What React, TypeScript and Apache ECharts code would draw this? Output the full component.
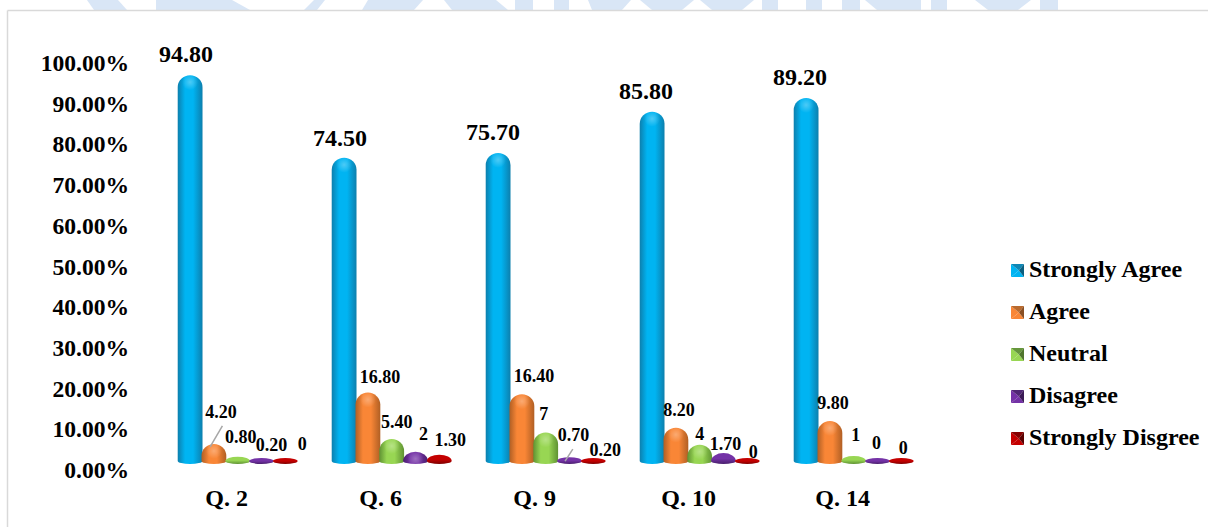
import React, { useEffect, useRef } from "react";
import * as echarts from "echarts";

const categories = ["Q. 2", "Q. 6", "Q. 9", "Q. 10", "Q. 14"];
const seriesNames = ["Strongly Agree", "Agree", "Neutral", "Disagree", "Strongly Disgree"];
const stronglyAgree = [94.8, 74.5, 75.7, 85.8, 89.2];
const agree = [4.2, 16.8, 16.4, 8.2, 9.8];
const neutral = [0.8, 5.4, 7, 4, 1];
const disagree = [0.2, 2, 0.7, 1.7, 0];
const stronglyDisagree = [0, 1.3, 0.2, 0, 0];
const seriesValues = [stronglyAgree, agree, neutral, disagree, stronglyDisagree];

// label nudges (px) relative to each bar's top, per series then category
const labelNudges: number[][][] = [
  [[-4, -21], [-4, -20], [-5, -21], [-6, -21], [-6, -21]],
  [[7, -32], [12, -16], [12, -18], [3, -18], [3, -18]],
  [[3, -21], [5, -17], [-2, -19], [0, -11], [2, -22]],
  [[10, -15], [8, -19], [4, -23], [2, -10], [-1, -18]],
  [[17, -17], [11, -16], [12, -10], [6, -9], [2, -13]],
];
// leader lines: series, category, from (dx,dy), to (dx,dy)
const leaders = [
  { s: 1, c: 0, line: [8.5, -18, -3.8, 3] },
  { s: 3, c: 2, line: [3.3, -9, -4.4, 3] },
];

const baseColors = ["#00b4f2", "#f98636", "#98d653", "#7432a6", "#c40000"];
const edgeColors = ["#0d7fad", "#b05f24", "#5f9233", "#4a1f6d", "#7d0000"];
const darkFacet = ["#0b5f80", "#8a4f22", "#4f752c", "#3a1a55", "#5a0000"];
const midFacet = ["#0f87b5", "#b96a2e", "#66963c", "#4f2674", "#860000"];

// faded banner behind the top edge of the chart panel: [topL, topR, botL, botR]
const bannerShapes = [
  [87, 118, 94, 127], [156, 232, 156, 250], [314, 325, 304, 317], [368, 423, 362, 414],
  [444, 496, 452, 508], [515, 533, 515, 533], [554, 569, 554, 569], [588, 604, 592, 604],
  [604, 631, 604, 622], [640, 694, 652, 682], [700, 754, 712, 742], [762, 778, 762, 778],
  [806, 822, 806, 822], [842, 860, 842, 860], [865, 921, 877, 921], [931, 947, 931, 947],
  [975, 1031, 988, 1018], [1040, 1058, 1040, 1058],
];

const SERIF = "'Liberation Serif', 'Times New Roman', serif";
const legendMarkerTop = 264;
const legendStep = 42;

function fmt(v: number) {
  return Number.isInteger(v) ? String(v) : v.toFixed(2);
}

function makeRenderItem(s: number) {
  return (params: any, api: any) => {
    const c = api.value(0);
    const v = api.value(1);
    const center = api.coord([c, v]);
    const base = api.coord([c, 0]);
    const band = api.size([1, 0])[0];
    const step = band * 0.1545;
    const x = center[0] + (s - 2) * step;
    const rx = 12.4;
    const yb = base[1];
    const topRaw = center[1];
    const top = Math.min(topRaw - (v < 4 ? 1 : 0), yb - 3);
    const ry = Math.min(12, yb - top);
    const sh = top + ry;
    const xl = x - rx;
    const xr = x + rx;
    const d = `M${xl} ${sh}A${rx} ${ry} 0 0 1 ${xr} ${sh}L${xr} ${yb}A${rx} 3 0 0 1 ${xl} ${yb}Z`;
    const flat = ry < 8;
    const fill = flat
      ? new echarts.graphic.LinearGradient(0, 0, 0, 1, [
          { offset: 0, color: baseColors[s] },
          { offset: 0.5, color: baseColors[s] },
          { offset: 1, color: edgeColors[s] },
        ])
      : new echarts.graphic.LinearGradient(0, 0, 1, 0, [
          { offset: 0, color: edgeColors[s] },
          { offset: 0.3, color: baseColors[s] },
          { offset: 0.62, color: baseColors[s] },
          { offset: 1, color: edgeColors[s] },
        ]);
    const children: any[] = [
      { type: "path", shape: { pathData: d, x: xl, y: top, width: rx * 2, height: yb + 3 - top, layout: "cover" }, style: { fill }, z2: s },
    ];
    if (!flat) {
      children.push({
        type: "circle",
        shape: { cx: x, cy: top + 7, r: 8 },
        style: {
          fill: new echarts.graphic.RadialGradient(0.5, 0.5, 0.5, [
            { offset: 0, color: "rgba(255,255,255,0.3)" },
            { offset: 1, color: "rgba(255,255,255,0)" },
          ]),
        },
        z2: s + 0.5,
      });
    }
    const n = labelNudges[s][c];
    children.push({
      type: "text",
      x: x + n[0],
      y: topRaw + n[1],
      style: {
        text: fmt(v),
        font: `bold ${s === 0 ? 24 : 18}px ${SERIF}`,
        fill: "#000",
        align: "center",
        verticalAlign: "middle",
      },
      z2: 100,
    });
    leaders
      .filter((l) => l.s === s && l.c === c)
      .forEach((l) => {
        children.push({
          type: "line",
          shape: { x1: x + l.line[0], y1: topRaw + l.line[1], x2: x + l.line[2], y2: topRaw + l.line[3] },
          style: { stroke: "#a6a6a6", lineWidth: 1.5 },
          z2: 50,
        });
      });
    return { type: "group", children };
  };
}

function buildGraphic() {
  const els: any[] = [];
  bannerShapes.forEach((b) => {
    els.push({
      type: "polygon",
      shape: { points: [[b[0], 0], [b[1], 0], [b[3], 10], [b[2], 10]] },
      style: { fill: "#d9e6f6" },
      silent: true,
      z: 0,
    });
  });
  els.push({ type: "line", shape: { x1: 7.5, y1: 10.5, x2: 1208, y2: 10.5 }, style: { stroke: "#d9d9d9", lineWidth: 1.5 }, silent: true });
  els.push({ type: "line", shape: { x1: 7.5, y1: 10.5, x2: 7.5, y2: 527 }, style: { stroke: "#d9d9d9", lineWidth: 1.5 }, silent: true });
  seriesNames.forEach((_, i) => {
    const x0 = 1011;
    const x1 = 1024;
    const y0 = legendMarkerTop + i * legendStep;
    const y1 = y0 + 13;
    const cx = x0 + 8;
    const cy = y0 + 6.5;
    const tri = (pts: number[][], fill: string) =>
      els.push({ type: "polygon", shape: { points: pts }, style: { fill }, silent: true, z: 20 });
    tri([[x0, y0], [x0, y1], [cx, cy]], baseColors[i]);
    tri([[x0, y1], [x1, y1], [cx, cy]], baseColors[i]);
    tri([[x0, y0], [x1, y0], [cx, cy]], midFacet[i]);
    tri([[x1, y0], [x1, y1], [cx, cy]], darkFacet[i]);
  });
  return els;
}

export default function App() {
  const ref = useRef<HTMLDivElement>(null);
  useEffect(() => {
    document.body.style.margin = "0";
    document.body.style.background = "#fff";
    const chart = echarts.init(ref.current!, undefined, { renderer: "svg" });
    chart.setOption({
      animation: false,
      backgroundColor: "#fff",
      grid: { left: 160.7, width: 770, top: 54, height: 407, containLabel: false },
      xAxis: {
        type: "category",
        data: categories,
        axisLine: { show: false },
        axisTick: { show: false },
        splitLine: { show: false },
        axisLabel: {
          margin: 25,
          padding: [0, 22, 0, 0],
          color: "#000",
          fontFamily: SERIF,
          fontWeight: "bold",
          fontSize: 24,
        },
      },
      yAxis: {
        type: "value",
        min: 0,
        max: 100,
        interval: 10,
        axisLine: { show: false },
        axisTick: { show: false },
        splitLine: { show: false },
        axisLabel: {
          margin: 31.5,
          verticalAlign: "top",
          lineHeight: 18,
          color: "#000",
          fontFamily: SERIF,
          fontWeight: "bold",
          fontSize: 23.6,
          formatter: (v: number) => v.toFixed(2) + "%",
        },
      },
      legend: {
        show: true,
        orient: "vertical",
        left: 1011,
        top: 257,
        padding: 0,
        itemWidth: 13,
        itemHeight: 13,
        itemGap: 18,
        icon: "rect",
        itemStyle: { opacity: 0 },
        data: seriesNames,
        selectedMode: false,
        textStyle: { color: "#000", fontFamily: SERIF, fontWeight: "bold", fontSize: 24, lineHeight: 24, padding: [0, 0, 0, 0] },
      },
      graphic: { elements: buildGraphic() },
      series: seriesNames.map((name, s) => ({
        type: "custom",
        name,
        coordinateSystem: "cartesian2d",
        clip: false,
        z: 5,
        itemStyle: { color: baseColors[s] },
        encode: { x: 0, y: 1 },
        data: seriesValues[s].map((v, c) => [c, v]),
        renderItem: makeRenderItem(s),
      })),
    });
    return () => chart.dispose();
  }, []);
  return <div ref={ref} style={{ position: "fixed", left: 0, top: 0, width: 1208, height: 527 }} />;
}
